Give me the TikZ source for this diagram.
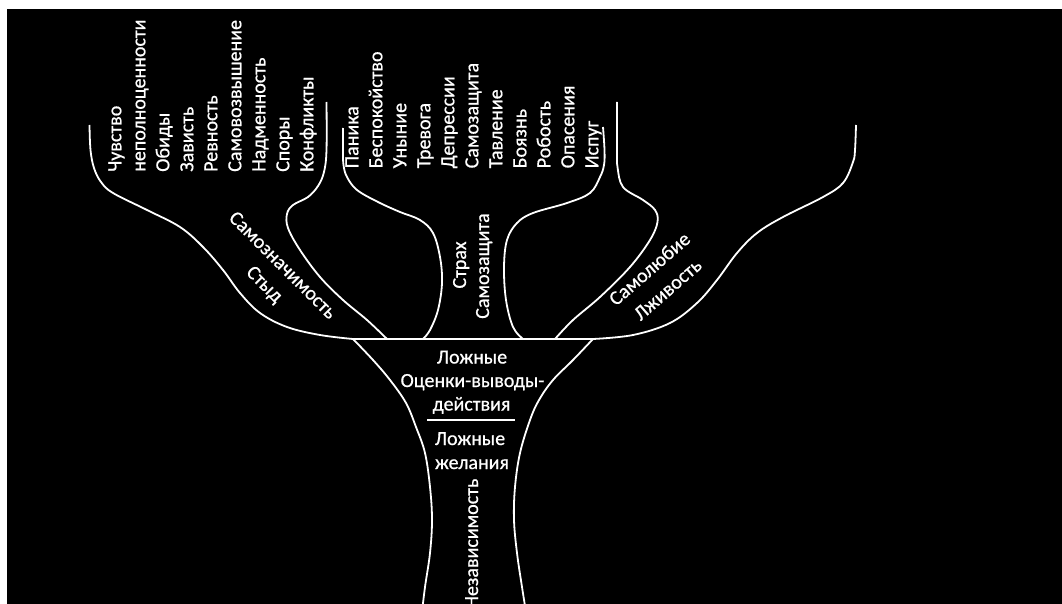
\documentclass[tikz,border=0pt]{standalone}
\usepackage{fontspec}
\setmainfont{Carlito}[RawFeature={embolden=0.7}]
\tikzset{
  branch/.style={draw=white, line width=1.8pt},
  word/.style={text=white, inner sep=0pt, font=\fontsize{20}{24}\selectfont},
  vword/.style={word, rotate=90, anchor=base west},
}
\begin{document}
\begin{tikzpicture}[x=1pt,y=-1pt]
\useasboundingbox (0,0) rectangle (1062,604);
\fill[white] (0,0) rectangle (1062,604);
\fill[black] (7,9.5) rectangle (1062,604);

% vertical word columns
\foreach \w [count=\i from 0] in {Чувство,неполноценности,Обиды,Зависть,Ревность,Самовозвышение,Надменность,Споры,Конфликты}
  \node[vword] (L\i) at ({121.3+24*\i},172) {\w};
\foreach \w [count=\i from 0] in {Паника,Беспокойство,Уныние,Тревога,Депрессии,Самозащита,Тавление,Боязнь,Робость,Опасения,Испуг}
  \node[vword] (M\i) at ({358.3+24*\i},168.5) {\w};

% branches
\draw[branch] plot[smooth, tension=0.6] coordinates {(89.5,125) (90.5,150) (94,168) (101,182) (113,193) (147,210) (180,227) (203,247) (223,270) (240,293) (260,313) (287,327) (320,335) (353,339)};
\draw[branch] plot[smooth, tension=0.6] coordinates {(326.5,102) (326.5,150) (324,172) (318,186) (308,197) (293,205) (287,214) (288,228) (300,250) (320,277) (343,300) (367,320) (387,339)};
\draw[branch] plot[smooth, tension=0.6] coordinates {(343,128) (343,150) (343.5,165) (347,177) (357,190) (378,202) (400,212) (420,220) (433,233) (440,257) (442,283) (438,310) (430,330) (423,339)};
\draw[branch] plot[smooth, tension=0.6] coordinates {(603,127) (604.5,150) (604,165) (600,177) (590,193) (567,203) (533,213) (517,223) (507,240) (504,267) (506,300) (513,327) (523,339)};
\draw[branch] plot[smooth, tension=0.6] coordinates {(617,102) (617,150) (617.5,167) (623,187) (643,200) (655,210) (657.5,222) (650,240) (630,267) (600,297) (573,320) (555,339)};
\draw[branch] plot[smooth, tension=0.6] coordinates {(856,125) (855,150) (853,162) (843,183) (823,197) (783,217) (757,233) (737,253) (717,280) (697,303) (670,323) (633,335) (593,339)};

% trunk
\coordinate (tl) at (353,339);
\coordinate (tr) at (593,339);
\draw[branch] (tl) -- (tr);
\draw[branch] plot[smooth, tension=0.6] coordinates {(353,339) (373,360) (390,380) (406,403) (416,427) (425,453) (430,487) (432,520) (430,553) (425,587) (422,612)};
\draw[branch] plot[smooth, tension=0.6] coordinates {(593,339) (573,360) (553,380) (539,400) (530,420) (520,453) (515,487) (514,520) (517,553) (522,587) (526,612)};

% trunk texts
\node[word, anchor=base] (c1) at (472,363.5) {Ложные};
\node[word, anchor=base] (c2) at (472.5,387) {Оценки-выводы-};
\node[word, anchor=base] (c3) at (471.5,410.5) {действия};
\coordinate (dl) at (427,420);
\coordinate (dr) at (515,420);
\draw[branch] (dl) -- (dr);
\node[word, anchor=base] (c4) at (470,445) {Ложные};
\node[word, anchor=base] (c5) at (472,469) {желания};
\node[word, rotate=90, anchor=base east] (c6) at (478,478.5) {Независимость};

% branch labels
\node[word, rotate=90, anchor=base] (s1) at (466,265) {Страх};
\node[word, rotate=90, anchor=base] (s2) at (489,266) {Самозащита};
\node[word, rotate=-45, anchor=base] (z1) at (278.5,269.5) {Самозначимость};
\node[word, rotate=-45, anchor=base] (z2) at (260.5,288.5) {Стыд};
\node[word, rotate=41, anchor=base] (r1) at (653.8,273.8) {Самолюбие};
\node[word, rotate=41, anchor=base] (r2) at (671.8,294.3) {Лживость};
\end{tikzpicture}
\end{document}
